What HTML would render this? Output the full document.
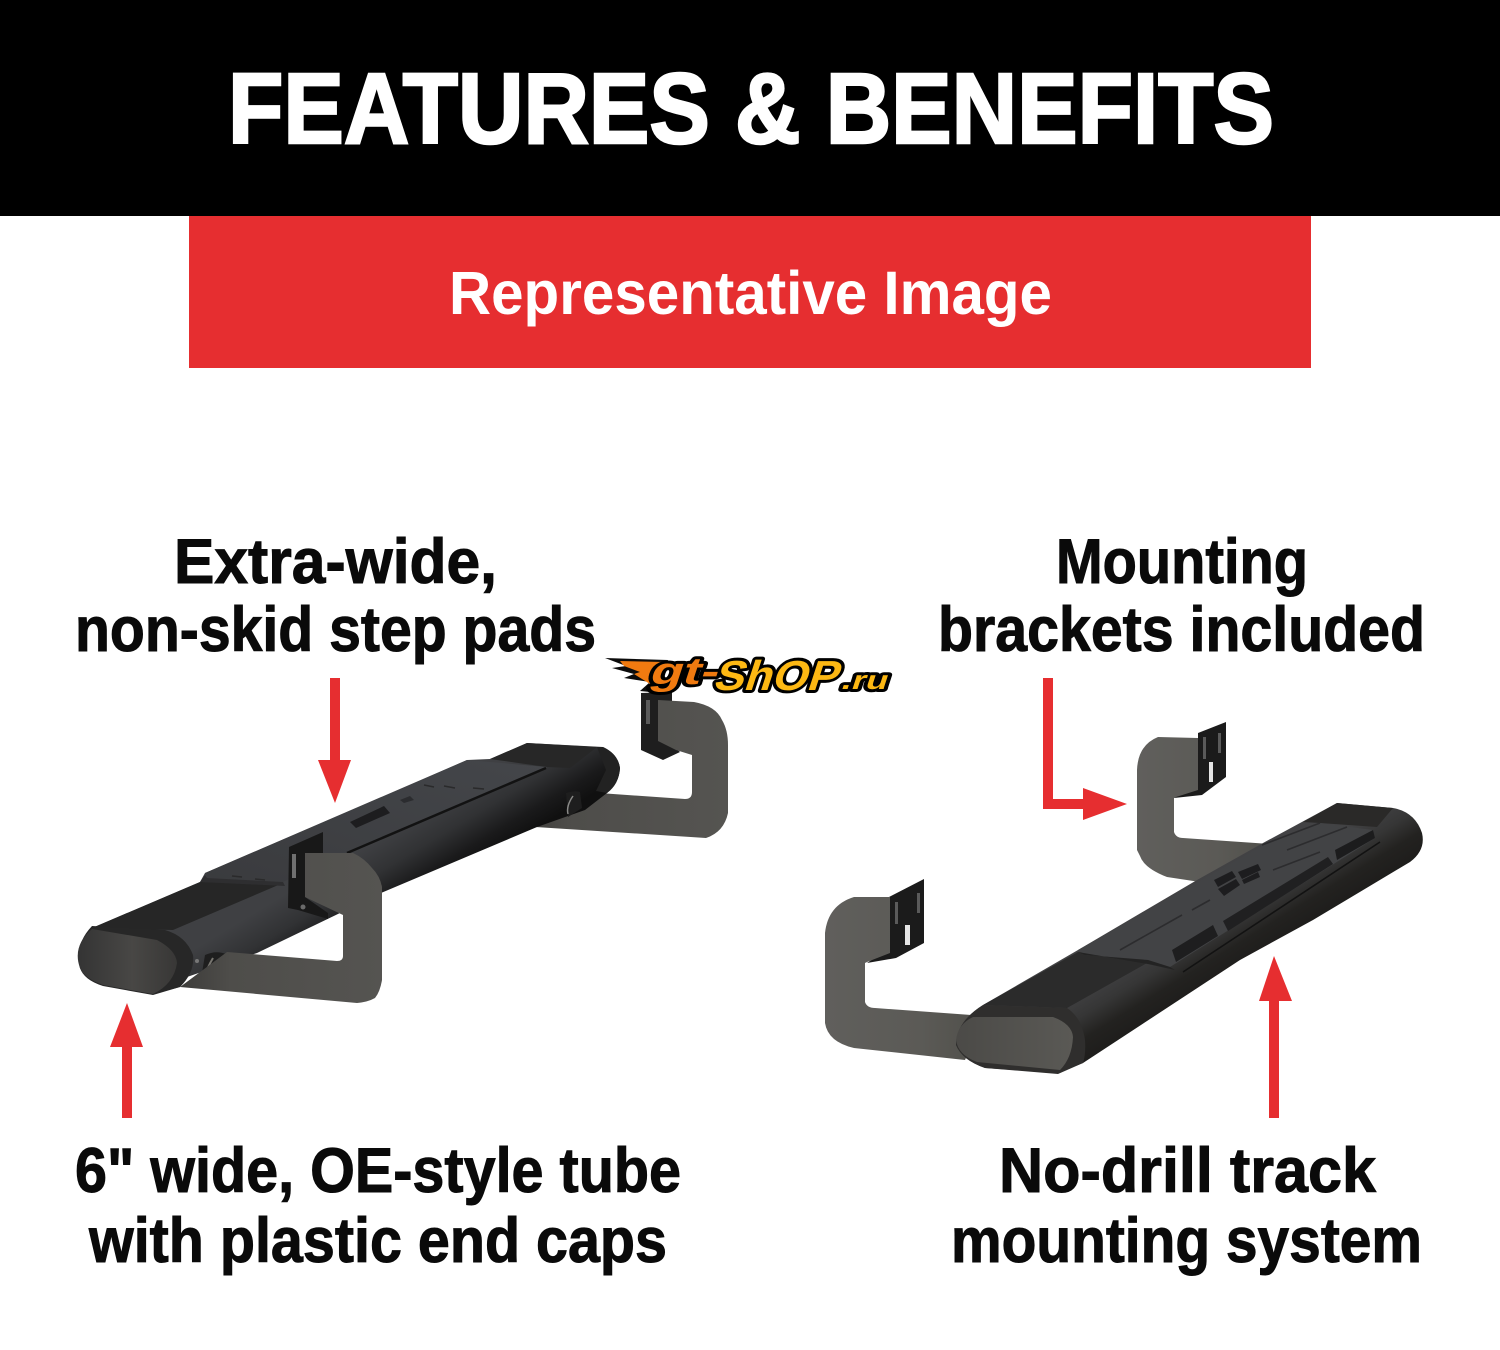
<!DOCTYPE html>
<html lang="en">
<head>
<meta charset="utf-8">
<title>Features &amp; Benefits</title>
<style>
html,body{margin:0;padding:0;background:#fff}
svg{display:block}
text{font-family:"Liberation Sans",Arial,sans-serif;font-weight:700}
.l{font-size:63px;fill:#0a0a0a;stroke:#0a0a0a;stroke-width:1}
</style>
</head>
<body>
<svg width="1500" height="1350" viewBox="0 0 1500 1350" xmlns="http://www.w3.org/2000/svg">
<defs>
<linearGradient id="plateL" x1="0" y1="0" x2="1" y2="0">
<stop offset="0" stop-color="#3d3c3a"/><stop offset=".25" stop-color="#4e4d4a"/><stop offset="1" stop-color="#555451"/>
</linearGradient>
<linearGradient id="plateR" x1="0" y1="0" x2="1" y2="0">
<stop offset="0" stop-color="#605f5c"/><stop offset=".6" stop-color="#5b5a56"/><stop offset="1" stop-color="#504f4a"/>
</linearGradient>
<linearGradient id="sideL" gradientUnits="userSpaceOnUse" x1="400" y1="825" x2="438" y2="888">
<stop offset="0" stop-color="#3f4043"/><stop offset=".4" stop-color="#313234"/><stop offset=".75" stop-color="#1a1a1b"/><stop offset="1" stop-color="#101010"/>
</linearGradient>
<linearGradient id="sideR" gradientUnits="userSpaceOnUse" x1="1215" y1="905" x2="1258" y2="975">
<stop offset="0" stop-color="#424244"/><stop offset=".3" stop-color="#363636"/><stop offset=".55" stop-color="#232220"/><stop offset="1" stop-color="#1a1918"/>
</linearGradient>
<linearGradient id="padL" x1="0" y1="1" x2="1" y2="0">
<stop offset="0" stop-color="#3a3b3e"/><stop offset="1" stop-color="#44464a"/>
</linearGradient>
<linearGradient id="capL" x1="0" y1="0" x2="1" y2="0">
<stop offset="0" stop-color="#343434"/><stop offset=".55" stop-color="#484745"/><stop offset="1" stop-color="#383736"/>
</linearGradient>
<linearGradient id="capR" x1="0" y1="0" x2="1" y2="0">
<stop offset="0" stop-color="#4b4a47"/><stop offset="1" stop-color="#5a5955"/>
</linearGradient>
</defs>

<rect width="1500" height="1350" fill="#fff"/>
<rect width="1500" height="216" fill="#000"/>
<rect x="189" y="216" width="1122" height="152" fill="#e62e30"/>
<text x="228" y="143" font-size="100" fill="#fff" stroke="#fff" stroke-width="2.5" textLength="1046" lengthAdjust="spacingAndGlyphs">FEATURES &amp; BENEFITS</text>
<text x="449" y="314" font-size="61" fill="#fff" textLength="603" lengthAdjust="spacingAndGlyphs">Representative Image</text>

<text class="l" x="174" y="583" textLength="323" lengthAdjust="spacingAndGlyphs">Extra-wide,</text>
<text class="l" x="75" y="651" textLength="521" lengthAdjust="spacingAndGlyphs">non-skid step pads</text>
<text class="l" x="1056" y="583" textLength="252" lengthAdjust="spacingAndGlyphs">Mounting</text>
<text class="l" x="938" y="651" textLength="487" lengthAdjust="spacingAndGlyphs">brackets included</text>
<text class="l" x="75" y="1192" textLength="606" lengthAdjust="spacingAndGlyphs">6" wide, OE-style tube</text>
<text class="l" x="89" y="1262" textLength="578" lengthAdjust="spacingAndGlyphs">with plastic end caps</text>
<text class="l" x="999" y="1192" textLength="377" lengthAdjust="spacingAndGlyphs">No-drill track</text>
<text class="l" x="951" y="1262" textLength="471" lengthAdjust="spacingAndGlyphs">mounting system</text>

<!-- LEFT RAIL -->
<path d="M641 693L672 692L672 745L680 752L663 760L641 750Z" fill="#1e1e1e"/>
<rect x="646" y="700" width="4" height="24" fill="#5a5a5a"/>
<path d="M658 700L694 702Q716 706 722 720Q728 730 728 745L728 813Q724 832 706 838L520 826L585 792L685 799Q692 799 692 792L692 755L676 750L658 741Z" fill="url(#plateL)"/>
<path d="M92 928L200 882L205 873L467 760L490 759L527 743L603 747Q618 754 620 768Q619 784 607 793L585 810L537 827L381 893L340 913L257 953L187 977L180 987L153 994L103 985Q84 978 80 968Q74 945 92 928Z" fill="url(#sideL)"/>
<path d="M92 928L200 882L260 883L283 883L173 930Z" fill="#262626"/>
<path d="M490 759L527 743L597 747L570 768L547 767Z" fill="#272727"/>
<path d="M205 873L417 782L467 760L547 767L347 852L283 882L207 878Z" fill="url(#padL)"/>
<path d="M347 853L546 768" stroke="#121212" stroke-width="2.5" fill="none"/>
<path d="M205 875L207 878L283 882L285 886L200 882Z" fill="#2e2e30"/>
<g stroke="#2a2a2b" stroke-width="1.5" fill="none">
<path d="M232 876L242 877M255 879L265 880M424 785L434 787M444 786L455 788M473 788L484 789"/>
</g>
<path d="M350 822L384 806L390 813L356 828Z" fill="#1d1d1f"/>
<path d="M400 800L410 796L414 800L404 803Z" fill="#2b2c2f"/>
<path d="M597 747L603 747Q618 754 620 768Q619 784 607 793L596 791L606 770Z" fill="#222"/>
<path d="M566 793Q576 790 580 792L582 808L568 817Z" fill="#1e1e1e"/>
<path d="M573 796Q566 806 568 814" stroke="#8a8a88" stroke-width="1.5" fill="none"/>
<path d="M205 955Q216 950 226 954L222 972L200 985Z" fill="#1e1e1e"/>
<path d="M213 958Q207 968 204 978" stroke="#77756f" stroke-width="2" fill="none"/>
<path d="M92 926L165 930Q186 936 193 955Q195 972 180 987L153 995L103 986Q84 980 80 968Q74 945 92 926Z" fill="#272727"/>
<path d="M92 929L157 940Q176 950 177 963Q174 984 153 994L103 985Q84 978 80 968Q72 946 92 929Z" fill="url(#capL)"/>
<circle cx="197" cy="961" r="2" fill="#777"/>
<path d="M289 847L323 832L323 853L305 855L305 897L328 913L328 919L298 910L288 908Z" fill="#181818"/>
<rect x="292" y="854" width="4" height="24" fill="#707070"/>
<circle cx="303" cy="907" r="2.5" fill="#6a6a6a"/>
<path d="M305 853L353 853Q364 858 372 868Q380 876 382 887L382 980Q380 992 375 998Q368 1002 357 1003L180 987L227 952L337 961Q343 961 343 956L343 915L305 897Z" fill="url(#plateL)"/>

<!-- RIGHT RAIL -->
<path d="M1198 733L1226 722L1226 777L1202 795L1174 798L1198 780Z" fill="#1b1b1b"/>
<rect x="1203" y="737" width="3" height="22" fill="#5a5a5a"/>
<rect x="1218" y="733" width="3" height="20" fill="#5a5a5a"/>
<rect x="1209" y="762" width="4" height="20" fill="#e5e5e5"/>
<path d="M1158 737L1198 738L1198 790L1176 797L1174 798L1174 832Q1176 838 1183 838L1270 844L1200 882L1167 877Q1144 868 1140 856L1137 850L1137 770Q1138 745 1158 737Z" fill="url(#plateR)"/>
<path d="M889 897L924 879L924 943L896 958L867 963L889 948Z" fill="#1b1b1b"/>
<rect x="895" y="902" width="3" height="22" fill="#5a5a5a"/>
<rect x="917" y="893" width="3" height="20" fill="#5a5a5a"/>
<rect x="905" y="925" width="5" height="20" fill="#e5e5e5"/>
<path d="M854 897L890 897L890 953L867 962L865 963L865 1002Q867 1008 875 1008L985 1016L965 1060L854 1048Q828 1042 825 1023L825 933Q828 905 854 897Z" fill="url(#plateR)"/>
<path d="M983 1005L1078 950L1197 880L1263 843L1337 803L1393 808Q1415 812 1422 833Q1426 850 1410 862L1313 920L1240 960L1083 1063L1058 1073L985 1068Q962 1060 956 1045Q956 1022 983 1005Z" fill="url(#sideR)"/>
<path d="M983 1005L1078 952L1147 963L1067 1008Z" fill="#2b2b2b"/>
<path d="M1303 822L1337 803L1393 808L1377 827L1320 823Z" fill="#2a2928"/>
<path d="M1078 950L1263 845L1320 823L1373 830L1375 838L1170 967L1148 960L1085 955Z" fill="#424345"/>
<path d="M1078 952L1085 955L1148 960L1170 967L1175 970L1148 964Z" fill="#232323"/>
<path d="M1172 950L1213 925L1218 936L1176 962Z" fill="#1e1e1f"/>
<path d="M1223 921L1328 857L1333 864L1228 931Z" fill="#202021"/>
<path d="M1335 850L1373 830L1375 838L1337 860Z" fill="#1c1c1d"/>
<path d="M1183 972L1380 842" stroke="#121212" stroke-width="1.6" fill="none"/>
<g stroke="#2c2c2e" stroke-width="1.6" fill="none">
<path d="M1120 950L1182 915M1192 910L1210 900M1287 850L1347 827M1273 870L1320 852M1262 845L1320 823"/>
</g>
<g fill="#1d1d1f">
<path d="M1214 880L1232 871L1236 877L1218 887Z"/>
<path d="M1218 889L1236 879L1240 885L1224 896Z"/>
<path d="M1238 872L1258 864L1261 870L1242 879Z"/>
<path d="M1242 880L1258 872L1260 877L1244 884Z"/>
</g>
<path d="M983 1005L1067 1008Q1082 1018 1085 1040Q1086 1054 1083 1063L1058 1074L985 1068Q962 1060 956 1045Q956 1022 983 1005Z" fill="#2f2e2d"/>
<path d="M973 1017L1053 1017Q1072 1024 1073 1037Q1072 1058 1060 1070L977 1062Q958 1055 956 1040Q958 1024 973 1017Z" fill="url(#capR)"/>

<!-- ARROWS -->
<g fill="#e62e30">
<path d="M330 678H340V760H351L335 803L318 760H330Z"/>
<path d="M122 1118H132V1047H143L127 1003L110 1047H122Z"/>
<path d="M1269 1118H1279V1001H1292L1274 956L1259 1001H1269Z"/>
<path d="M1043 678H1053V799H1083V788L1127 804L1083 820V809H1043Z"/>
</g>

<!-- WATERMARK -->
<g>
<path d="M605 658L668 660L664 672L650 692L640 691L650 682L624 678L634 674L612 668L626 666Z" fill="#0c0c0c"/>
<path d="M620 661L664 662L650 684L634 674L640 672L624 666Z" fill="#f07a10"/>
<g stroke="#000" stroke-width="6" paint-order="stroke" stroke-linejoin="round">
<text transform="translate(648,684) skewX(-18)" font-size="38" fill="#f07a10" textLength="68" lengthAdjust="spacingAndGlyphs">gt-</text>
<text transform="translate(712,690) skewX(-18)" font-size="42" fill="#fdb813" textLength="124" lengthAdjust="spacingAndGlyphs">ShOP</text>
<text transform="translate(840,689) skewX(-18)" font-size="26" fill="#fdb813" textLength="46" lengthAdjust="spacingAndGlyphs">.ru</text>
</g>
</g>
</svg>
</body>
</html>
